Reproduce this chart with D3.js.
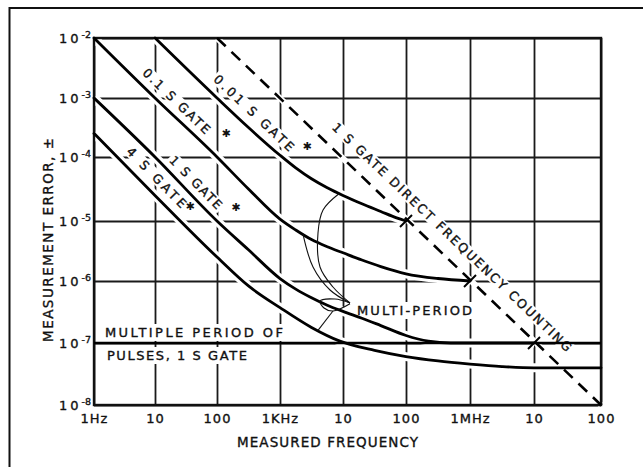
<!DOCTYPE html>
<html><head><meta charset="utf-8">
<script src="https://cdn.jsdelivr.net/npm/d3@7"></script>
<style>
body{margin:0;background:#fff;}
svg{display:block;font-family:"DejaVu Sans",sans-serif;}
</style></head><body>
<svg id="c" width="643" height="467"></svg>
<script>
// ---- tick values / labels ----
const xTickValues = [1, 10, 100, 1e3, 1e4, 1e5, 1e6, 1e7, 1e8];
const xTickLabels = ["1Hz", "10", "100", "1KHz", "10", "100", "1MHz", "10", "100"];
const yTickValues = [1e-2, 1e-3, 1e-4, 1e-5, 1e-6, 1e-7, 1e-8];
const yTickExponents = ["-2", "-3", "-4", "-5", "-6", "-7", "-8"];

// ---- series (frequency in Hz, measurement error) ----
const gate01Freq = [1, 10, 100, 316, 1000, 1778, 3162, 5623, 10000, 19953, 39811, 100000, 316228, 1000000];
const gate01Err  = [1e-2, 1e-3, 1e-4, 3.16e-5, 1.07e-5, 7.08e-6, 4.90e-6, 3.72e-6, 2.95e-6, 2.24e-6, 1.74e-6, 1.32e-6, 1.10e-6, 1.0e-6];

const gate001Freq = [10, 100, 316, 1000, 1778, 3162, 5623, 10000, 19953, 39811, 70795, 100000];
const gate001Err  = [1e-2, 1e-3, 3.16e-4, 1.07e-4, 6.76e-5, 4.57e-5, 3.31e-5, 2.51e-5, 1.86e-5, 1.41e-5, 1.12e-5, 1.0e-5];

const gate1Freq = [1, 10, 100, 316, 1000, 1778, 3162, 5623, 10000, 19953, 39811, 100000, 223872, 501187, 1e7];
const gate1Err  = [1e-3, 1e-4, 1e-5, 3.31e-6, 1.10e-6, 7.41e-7, 5.37e-7, 4.07e-7, 3.24e-7, 2.51e-7, 1.91e-7, 1.32e-7, 1.07e-7, 1.0e-7, 1.0e-7];

const gate4Freq = [1, 10, 100, 316, 1000, 3162, 8913, 31623, 100000, 316228, 1e6, 3162278, 1e7, 1e8];
const gate4Err  = [2.51e-4, 2.51e-5, 2.51e-6, 8.32e-7, 3.72e-7, 1.78e-7, 1.07e-7, 7.59e-8, 6.03e-8, 5.13e-8, 4.57e-8, 4.17e-8, 3.98e-8, 3.98e-8];

const directFreq = [100, 1e8];
const directErr  = [1e-2, 1e-8];

const pulsesFreq = [1, 1e8];
const pulsesErr  = [1e-7, 1e-7];

// points where gate curves meet the direct-counting line
const crossFreq = [1e5, 1e6, 1e7];
const crossErr  = [1e-5, 1e-6, 1e-7];

// ---- labels ----
const curveLabelText = ["0.1 S GATE", "0.01 S GATE", "1 S GATE", "4 S GATE", "1 S GATE DIRECT FREQUENCY COUNTING"];
const curveLabelFreq = [22.2, 386, 45.8, 10.6, 523600];
const curveLabelErr  = [8.91e-4, 5.57e-4, 4.0e-5, 4.79e-5, 5.41e-6];
const curveLabelLen  = [88, 105, 69, 79, 325];

const starFreq = [139, 2685, 200, 36.7];
const starErr  = [2.55e-4, 1.48e-4, 1.6e-5, 1.66e-5];

const noteText = ["MULTI-PERIOD", "MULTIPLE PERIOD OF", "PULSES, 1 S GATE"];
const noteFreq = [16672, 1.51, 1.63];
const noteErr  = [2.83e-7, 1.25e-7, 5.32e-8];
const noteLen  = [115, 178, 140];

// leader lines of the MULTI-PERIOD note: [freq, err]
const leaderToB = [[8710, 2.69e-5], [4819, 1.486e-5], [4009, 6.31e-6], [4315, 1.71e-6], [6934, 8.0e-7], [12912, 4.42e-7]];
const leaderToA = [[2317, 6.03e-6], [3342, 1.71e-6], [6223, 7.16e-7], [12912, 4.42e-7]];
const leaderLoop = [[12912, 4.42e-7], [7464, 5.13e-7], [4315, 4.75e-7], [4989, 3.67e-7], [6934, 3.28e-7], [12912, 4.30e-7]];
const leaderToD = [[6934, 3.28e-7], [3981, 1.585e-7]];

// ---- scales (grid of the original drawing) ----
const x = d3.scaleLog().domain(xTickValues).range([94, 155, 217, 280, 343, 406, 470, 534, 601]);
const y = d3.scaleLog().domain(yTickValues).range([38, 98, 157, 221, 281, 343, 405]);

const svg = d3.select("#c");
const gL = x(1), gR = x(1e8), gT = y(1e-2), gB = y(1e-8);
const ink = "#111";

// outer frame of the figure
svg.append("rect").attr("x", 9.5).attr("y", 8).attr("width", 700).attr("height", 600)
  .attr("fill", "none").attr("stroke", ink).attr("stroke-width", 2);

// x axis: grid + labels
const gx = svg.append("g").attr("transform", `translate(0,${gB})`)
  .call(d3.axisBottom(x).tickValues(xTickValues).tickFormat((d, i) => xTickLabels[i])
    .tickSizeInner(-(gB - gT)).tickSizeOuter(0).tickPadding(9));
gx.attr("font-family", "DejaVu Sans").attr("font-size", 13);
gx.select(".domain").remove();
gx.selectAll(".tick line").attr("stroke", "#1a1a1a").attr("stroke-width", 1.8);
gx.selectAll(".tick text").attr("fill", ink).attr("letter-spacing", 1)
  .attr("stroke", ink).attr("stroke-width", 0.35);

// y axis: grid + labels
const gy = svg.append("g").attr("transform", `translate(${gL},0)`)
  .call(d3.axisLeft(y).tickValues(yTickValues).tickFormat(() => "")
    .tickSizeInner(-(gR - gL)).tickSizeOuter(0).tickPadding(3));
gy.attr("font-family", "DejaVu Sans").attr("font-size", 13);
gy.select(".domain").remove();
gy.selectAll(".tick line").attr("stroke", "#1a1a1a").attr("stroke-width", 1.8);
gy.selectAll(".tick text").attr("fill", ink).attr("stroke", ink).attr("stroke-width", 0.35)
  .each(function (d, i) {
    const t = d3.select(this);
    t.append("tspan").text("10").attr("letter-spacing", 3);
    t.append("tspan").text(yTickExponents[i]).attr("font-size", 9.5).attr("dy", "-0.5em");
  });

// series
const series = [
  { f: gate01Freq, e: gate01Err },
  { f: gate001Freq, e: gate001Err },
  { f: gate1Freq, e: gate1Err },
  { f: gate4Freq, e: gate4Err }
];
const line = d3.line().x(d => x(d[0])).y(d => y(d[1])).curve(d3.curveMonotoneX);
const pts = s => s.f.map((f, i) => [f, s.e[i]]);
const directPts = directFreq.map((f, i) => [f, directErr[i]]);

// white casings (break the grid where curves pass)
svg.append("g").selectAll("path").data(series).join("path")
  .attr("d", s => line(pts(s))).attr("fill", "none").attr("stroke", "#fff").attr("stroke-width", 9);
svg.append("path").attr("d", line(directPts)).attr("fill", "none").attr("stroke", "#fff").attr("stroke-width", 6);

// local slope angle of a -1 decade line at a point
function angleAt(f, e) {
  const k = Math.sqrt(10);
  return Math.atan2(y(e / k) - y(e * k), x(f * k) - x(f / k)) * 180 / Math.PI;
}

// text with a white backing box that interrupts the grid (drafting style)
function boxedText(parent, opt) {
  const g = parent.append("g").attr("transform", opt.transform);
  const r = g.append("rect").attr("fill", "#fff");
  const t = g.append("text").attr("x", 0).attr("y", 0)
    .attr("text-anchor", opt.anchor).attr("dominant-baseline", opt.baseline)
    .attr("font-size", opt.size).attr("fill", ink).attr("stroke", ink).attr("stroke-width", 0.35)
    .attr("textLength", opt.len).attr("lengthAdjust", "spacing").text(opt.text);
  const b = t.node().getBBox();
  r.attr("x", b.x - opt.padX).attr("y", b.y - opt.padY)
   .attr("width", b.width + 2 * opt.padX).attr("height", b.height + 2 * opt.padY);
}

const labelLayer = svg.append("g");
curveLabelText.forEach((t, i) => {
  boxedText(labelLayer, {
    text: t,
    transform: `translate(${x(curveLabelFreq[i])},${y(curveLabelErr[i])}) rotate(${angleAt(curveLabelFreq[i], curveLabelErr[i])})`,
    anchor: "middle", baseline: "central", size: 12.5, len: curveLabelLen[i], padX: 2, padY: -1
  });
});
noteText.forEach((t, i) => {
  boxedText(labelLayer, {
    text: t,
    transform: `translate(${x(noteFreq[i])},${y(noteErr[i])})`,
    anchor: "start", baseline: "alphabetic", size: 13, len: noteLen[i], padX: 2, padY: 1
  });
});

// plot frame
svg.append("rect").attr("x", gL).attr("y", gT).attr("width", gR - gL).attr("height", gB - gT)
  .attr("fill", "none").attr("stroke", ink).attr("stroke-width", 2.4);

// curves
svg.append("g").selectAll("path").data(series).join("path")
  .attr("d", s => line(pts(s))).attr("fill", "none").attr("stroke", "#000")
  .attr("stroke-width", 2.8).attr("stroke-linecap", "round");
svg.append("path").attr("d", line(directPts)).attr("fill", "none").attr("stroke", "#000")
  .attr("stroke-width", 2.6).attr("stroke-dasharray", "12,8");

// crossing marks on the direct-counting line
svg.append("g").selectAll("line").data(crossFreq).join("line")
  .attr("x1", (f) => x(f) - 6).attr("y1", (f, i) => y(crossErr[i]) + 6)
  .attr("x2", (f) => x(f) + 6).attr("y2", (f, i) => y(crossErr[i]) - 6)
  .attr("stroke", "#000").attr("stroke-width", 2);

// asterisks
svg.append("g").selectAll("text").data(starFreq).join("text")
  .attr("x", f => x(f)).attr("y", (f, i) => y(starErr[i]))
  .attr("text-anchor", "middle").attr("dominant-baseline", "central")
  .attr("font-size", 11).attr("fill", ink).text("\u2731");

// multiple period of pulses line (bold, on top)
svg.append("path").attr("d", line(pulsesFreq.map((f, i) => [f, pulsesErr[i]])))
  .attr("fill", "none").attr("stroke", "#000").attr("stroke-width", 2.6);

// leader lines
const thin = d3.line().x(d => x(d[0])).y(d => y(d[1])).curve(d3.curveCatmullRom);
svg.append("g").selectAll("path").data([leaderToB, leaderToA, leaderLoop, leaderToD]).join("path")
  .attr("d", d => thin(d)).attr("fill", "none").attr("stroke", ink).attr("stroke-width", 1.1);

// axis titles
svg.append("text").attr("x", (gL + gR) / 2 - 20).attr("y", gB + 42)
  .attr("text-anchor", "middle").attr("font-size", 13.5).attr("fill", ink)
  .attr("stroke", ink).attr("stroke-width", 0.35)
  .attr("textLength", 181).attr("lengthAdjust", "spacing").text("MEASURED FREQUENCY");
svg.append("text").attr("transform", `translate(${gL - 41},${(gT + gB) / 2 + 18.5}) rotate(-90)`)
  .attr("text-anchor", "middle").attr("font-size", 13.5).attr("fill", ink)
  .attr("stroke", ink).attr("stroke-width", 0.35)
  .attr("textLength", 204).attr("lengthAdjust", "spacing").text("MEASUREMENT ERROR, \u00B1");
</script>
</body></html>
